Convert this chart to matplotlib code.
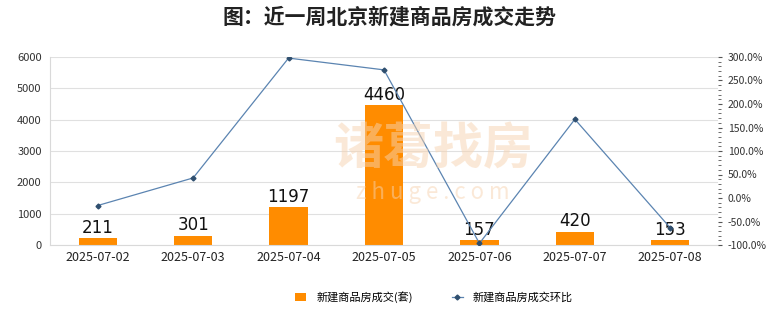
import matplotlib
matplotlib.use("Agg")
import matplotlib.pyplot as plt
from matplotlib.ticker import FuncFormatter, MultipleLocator
from matplotlib.lines import Line2D
from matplotlib.patches import Patch

plt.rcParams['font.family'] = ['Noto Sans CJK SC', 'DejaVu Sans']

dates = ["2025-07-02", "2025-07-03", "2025-07-04", "2025-07-05", "2025-07-06", "2025-07-07", "2025-07-08"]
deals = [211, 301, 1197, 4460, 157, 420, 153]
ratio = [-16.0, 42.7, 297.7, 272.6, -96.5, 167.5, -63.6]
title = "图：近一周北京新建商品房成交走势"
bar_label = "新建商品房成交(套)"
line_label = "新建商品房成交环比"

fig = plt.figure(figsize=(7.8, 3.28), dpi=100)
ax = fig.add_axes([50/780, 1-245/328, 668/780, 188/328])
x = list(range(len(dates)))

ax.set_xlim(-0.5, len(dates)-0.5)
ax.set_ylim(0, 6000)
ax.yaxis.set_major_locator(MultipleLocator(1000))
ax.grid(axis='y', color='#e0e0e0', linewidth=0.8)
ax.set_axisbelow(True)
for s in ['top', 'right']:
    ax.spines[s].set_visible(False)
ax.spines['left'].set_color('#d9d9d9')
ax.spines['bottom'].set_color('#d9d9d9')
ax.tick_params(axis='y', length=0, labelsize=8, colors='#333333', pad=6)
ax.tick_params(axis='x', length=0, labelsize=9, colors='#222222', pad=4)

# watermark
fig.text(0.555, 1-150/328, "诸葛找房", fontsize=36, color='#f7d3b0', alpha=0.5,
         ha='center', va='center', fontweight='bold', zorder=0)
fig.text(0.555, 1-192/328, "z h u g e . c o m", fontsize=16, color='#f7d3b0', alpha=0.5,
         ha='center', va='center', zorder=0)

bars = ax.bar(x, deals, width=0.4, color='#ff8c00', zorder=2)
for xi, v in zip(x, deals):
    ax.text(xi, v + 50, str(v), ha='center', va='bottom', fontsize=12, color='#111111',
            family='DejaVu Sans', zorder=5)
ax.set_xticks(x)
ax.set_xticklabels(dates)

ax2 = ax.twinx()
ax2.set_ylim(-100, 300)
ax2.yaxis.set_major_locator(MultipleLocator(50))
ax2.yaxis.set_minor_locator(MultipleLocator(10))
ax2.yaxis.set_major_formatter(FuncFormatter(lambda v, p: f"{v:.1f}%"))
for s in ['top', 'left', 'bottom', 'right']:
    ax2.spines[s].set_visible(False)
ax2.tick_params(axis='y', which='major', length=3, color='#555555', labelsize=7.5, colors='#333333', pad=4)
ax2.tick_params(axis='y', which='minor', length=2, color='#555555')
ax2.plot(x, ratio, color='#5b84b1', linewidth=0.9, marker='D', markersize=2.5,
         markerfacecolor='#2f4f6f', markeredgecolor='#2f4f6f', zorder=3)

fig.text(0.5, 1-17/328, title, ha='center', va='center', fontsize=15, fontweight='bold', color='#222222')

handles = [Patch(facecolor='#ff8c00', label=bar_label),
           Line2D([0], [0], color='#5b84b1', linewidth=0.9, marker='D', markersize=2.5,
                  markerfacecolor='#2f4f6f', markeredgecolor='#2f4f6f', label=line_label)]
fig.legend(handles=handles, loc='center', bbox_to_anchor=(434/780, 1-297/328), ncol=2, frameon=False,
           fontsize=8, handlelength=1.0, handleheight=0.7, handletextpad=0.9, columnspacing=3.5)

fig.savefig("out.png", dpi=100)
